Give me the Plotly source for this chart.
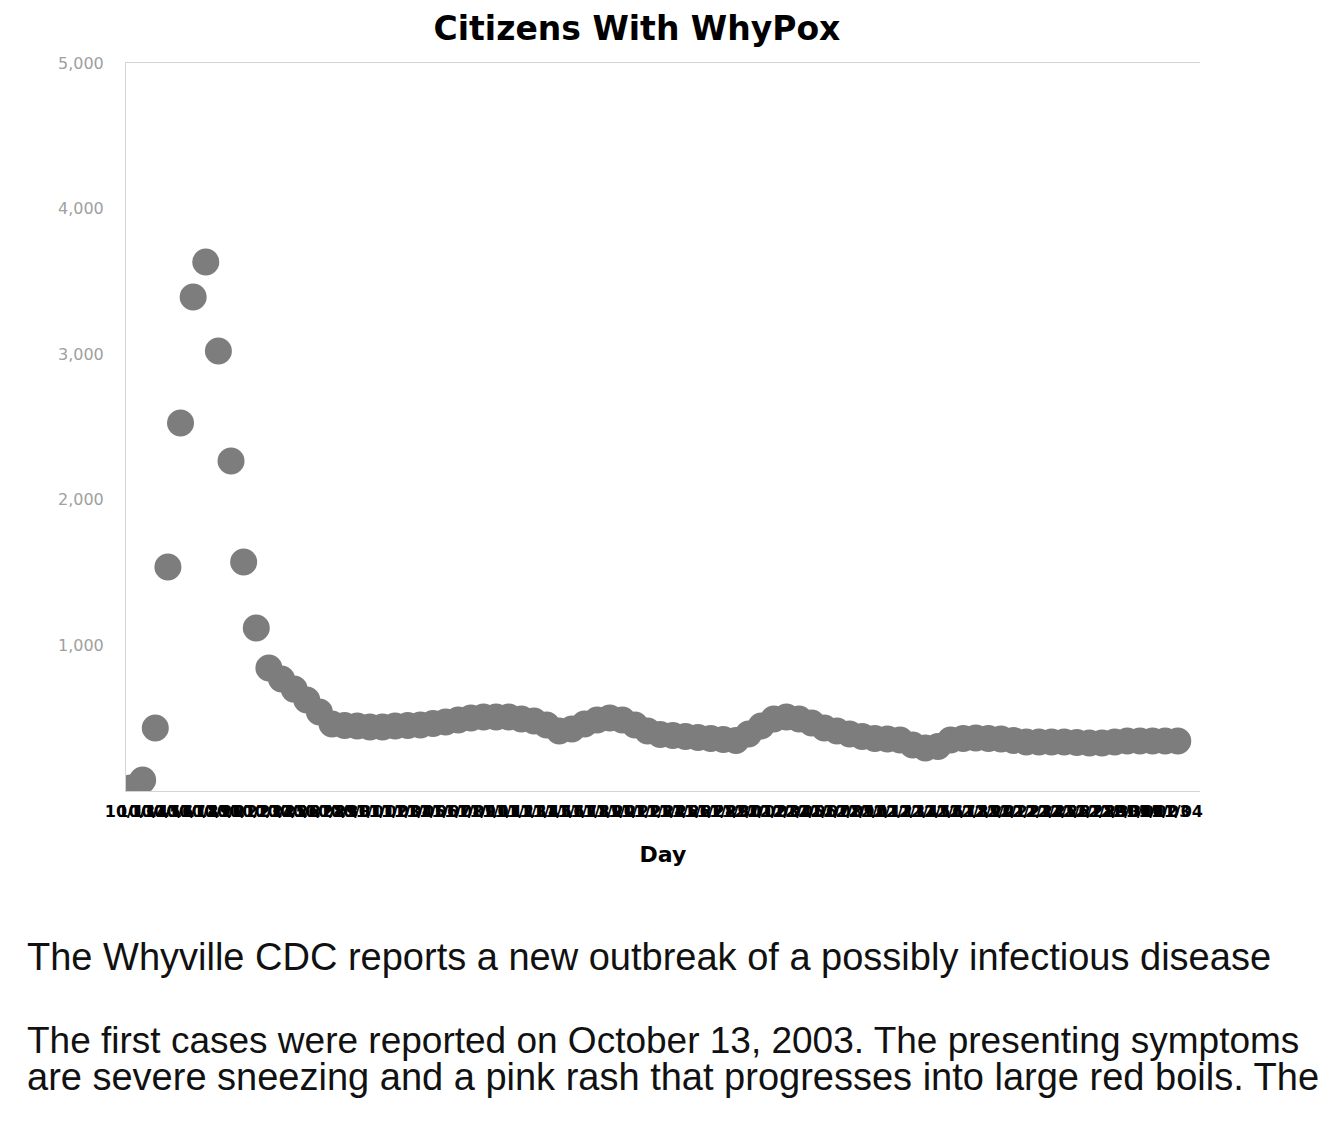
import plotly.graph_objects as go
import pandas as pd

# ---- data ----
days = list(range(84))
citizens_sick = [
    20, 75, 433, 1538, 2527, 3393, 3633, 3022, 2266, 1573,
    1120, 845, 769, 700, 625, 543, 460, 450, 446, 440,
    440, 446, 450, 453, 464, 474, 488, 501, 508, 508,
    508, 495, 481, 453, 412, 426, 460, 488, 501, 488,
    453, 412, 388, 381, 374, 367, 361, 354, 347, 391,
    446, 495, 508, 495, 467, 433, 412, 391, 374, 361,
    357, 350, 316, 295, 306, 350, 361, 364, 361, 357,
    347, 337, 337, 337, 337, 333, 330, 330, 337, 343,
    343, 343, 343, 343,
]
start_date = "2003-10-13"
day_labels = [d.strftime("%m/%d") for d in pd.date_range(start_date, periods=len(days), freq="D")]
y_tick_values = [1000, 2000, 3000, 4000, 5000]
y_tick_labels = ["1,000", "2,000", "3,000", "4,000", "5,000"]

title_text = "Citizens With WhyPox"
x_title = "Day"
para1 = "The Whyville CDC reports a new outbreak of a possibly infectious disease"
para2a = "The first cases were reported on October 13, 2003. The presenting symptoms"
para2b = "are severe sneezing and a pink rash that progresses into large red boils. The"

# page body has an 8px default margin, so the figure is drawn 8px in
W, H = 1322, 1109
L, T = 118, 55
PW, PH = 1074, 728

fig = go.Figure()
fig.add_trace(go.Scatter(
    x=days, y=citizens_sick, mode="markers",
    marker=dict(size=27, color="#7d7d7d", line=dict(width=0)),
    name="Sick",
))

fig.update_layout(
    width=W, height=H,
    margin=dict(l=L, r=W - L - PW, t=T, b=H - T - PH),
    paper_bgcolor="white", plot_bgcolor="white",
    showlegend=False,
    font=dict(family="DejaVu Sans", color="black"),
    title=dict(
        text="<b>" + title_text + "</b>",
        font=dict(family="DejaVu Sans", size=33, color="black"),
        x=(637 - 8) / W, xanchor="center", xref="container",
        y=1 - (28 - 8) / H, yanchor="middle", yref="container",
    ),
)
fig.update_xaxes(
    range=[-0.32, 84.76],
    tickmode="array", tickvals=days, ticktext=day_labels,
    tickangle=0, ticks="", ticklabelstandoff=6,
    tickfont=dict(family="DejaVu Sans", size=16, color="black", weight="bold"),
    showgrid=False, zeroline=False,
    showline=True, linecolor="#d4d4d4", linewidth=1, mirror=True,
    title=dict(text="<b>" + x_title + "</b>",
               font=dict(family="DejaVu Sans", size=22, color="black"),
               standoff=26),
)
fig.update_yaxes(
    range=[0, 5000],
    tickmode="array", tickvals=y_tick_values, ticktext=y_tick_labels,
    ticks="", ticklabelstandoff=18,
    tickfont=dict(family="DejaVu Sans", size=16, color="#a0a0a0"),
    showgrid=False, zeroline=False,
    showline=True, linecolor="#d4d4d4", linewidth=1,
)

def py(p):
    return (791 - p) / PH

def px(p):
    return (p - 126) / PW

for txt, ypix, fs in [(para1, 957, 38), (para2a, 1040, 37), (para2b, 1077, 38)]:
    fig.add_annotation(
        text=txt, xref="paper", yref="paper",
        x=px(25), y=py(ypix), xanchor="left", yanchor="middle",
        showarrow=False,
        font=dict(family="Liberation Sans", size=fs, color="#111111"),
    )

fig.write_html("out.html")
